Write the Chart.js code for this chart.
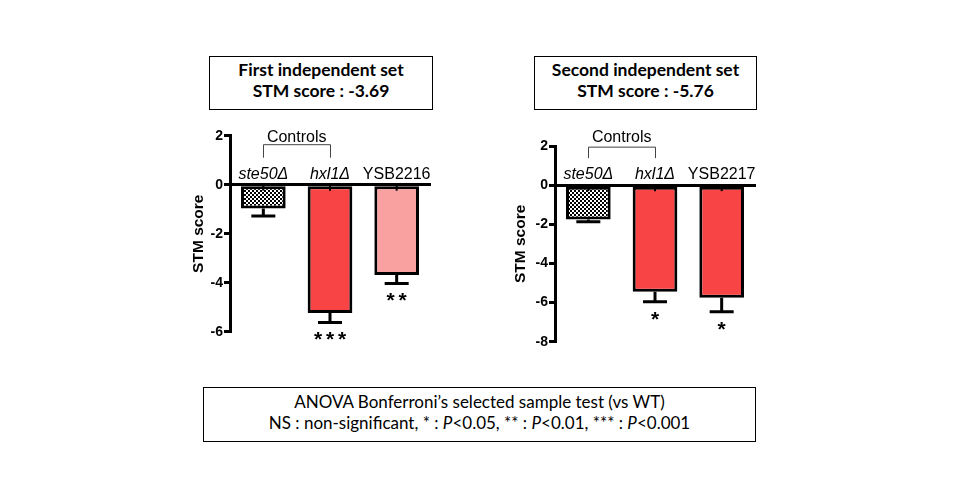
<!DOCTYPE html>
<html>
<head>
<meta charset="utf-8">
<title>STM score</title>
<script src="https://cdn.jsdelivr.net/npm/chart.js@4.4.1/dist/chart.umd.min.js"></script>
<style>
    body { margin: 0; background: #fff; }
    #page { position: relative; width: 960px; height: 500px; overflow: hidden; background: #fff; }
    .box {
        position: absolute;
        box-sizing: border-box;
        border: 1px solid #000;
        text-align: center;
        color: #000;
        font-family: Lato, "Open Sans", sans-serif;
        font-size: 17px;
        line-height: 21px;
    }
    .box.title { font-weight: bold; font-size: 17.5px; padding-top: 2px; }
    .box.note { padding-top: 3px; }
    canvas { position: absolute; }
</style>
</head>
<body>
<div id="page">
    <div class="box title" style="left:209px; top:56px; width:224px; height:54px;">First independent set<br>STM score : -3.69</div>
    <div class="box title" style="left:534px; top:56px; width:223px; height:54px;">Second independent set<br>STM score : -5.76</div>
    <canvas id="set1" width="270" height="240" style="left:170px; top:120px;"></canvas>
    <canvas id="set2" width="270" height="240" style="left:500px; top:120px;"></canvas>
    <div class="box note" style="left:203px; top:387px; width:553px; height:55px;">ANOVA Bonferroni’s selected sample test (vs WT)<br>NS : non-significant, * : <i>P</i>&lt;0.05, ** : <i>P</i>&lt;0.01, *** : <i>P</i>&lt;0.001</div>
</div>
<script>
// Data
const set1Labels = ['ste50Δ', 'hxl1Δ', 'YSB2216'];
const set1Scores = [-0.97, -5.24, -3.69];
const set1Errors = [0.31, 0.38, 0.34];
const set1Stars = ['', '***', '**'];

const set2Labels = ['ste50Δ', 'hxl1Δ', 'YSB2217'];
const set2Scores = [-1.75, -5.45, -5.76];
const set2Errors = [0.12, 0.51, 0.71];
const set2Stars = ['', '*', '*'];

// gene deletions are written in italics
const italicLabels = [true, true, false];
const controlsLabel = 'Controls';

const set1Axis = { min: -6, max: 2, step: 2 };
const set2Axis = { min: -8, max: 2, step: 2 };

const RED = '#F84444';
const PINK = '#F9A0A0';

// small black/white checkerboard for the ste50 bar
function makeChecker() {
    const c = document.createElement('canvas');
    c.width = 4;
    c.height = 4;
    const g = c.getContext('2d');
    g.fillStyle = '#fff';
    g.fillRect(0, 0, 4, 4);
    g.fillStyle = '#000';
    g.fillRect(0, 0, 2, 2);
    g.fillRect(2, 2, 2, 2);
    return g.createPattern(c, 'repeat');
}

// Error bars (downward only), significance stars, labels above the zero line and the Controls bracket
const annotatePlugin = {
    id: 'annotate',
    afterDatasetsDraw(chart, args, opts) {
        const ctx = chart.ctx;
        const y = chart.scales.y;
        const meta = chart.getDatasetMeta(0);
        const y0 = y.getPixelForValue(0);
        ctx.save();
        ctx.strokeStyle = '#000';
        ctx.fillStyle = '#000';
        meta.data.forEach(function(bar, i) {
            const end = y.getPixelForValue(opts.scores[i]);
            const low = y.getPixelForValue(opts.scores[i] - opts.errors[i]);
            ctx.lineWidth = 3;
            ctx.beginPath();
            ctx.moveTo(bar.x, end);
            ctx.lineTo(bar.x, low);
            ctx.moveTo(bar.x - 12, low);
            ctx.lineTo(bar.x + 12, low);
            ctx.stroke();
            // little notch just below the axis
            ctx.lineWidth = 2;
            ctx.beginPath();
            ctx.moveTo(bar.x, y0);
            ctx.lineTo(bar.x, y0 + 6);
            ctx.stroke();

            // stars
            const stars = opts.stars[i];
            if (stars) {
                ctx.font = 'bold 21px "Liberation Sans", Arial, sans-serif';
                ctx.textAlign = 'center';
                ctx.textBaseline = 'alphabetic';
                const m = ctx.measureText('*');
                const cy = low + 14;
                const base = cy + (m.actualBoundingBoxAscent - m.actualBoundingBoxDescent) / 2;
                const n = stars.length;
                for (let k = 0; k < n; k++) {
                    ctx.fillText('*', bar.x + (k - (n - 1) / 2) * 12, base);
                }
            }

            // category label
            ctx.font = (italicLabels[i] ? 'italic ' : '') + '16px "Liberation Sans", Arial, sans-serif';
            ctx.textAlign = 'center';
            ctx.textBaseline = 'alphabetic';
            ctx.fillText(opts.labels[i], bar.x, y0 - 6);
        });

        // Controls bracket over the first two bars
        const xa = meta.data[0].x;
        const xb = meta.data[1].x;
        ctx.strokeStyle = '#444';
        ctx.lineWidth = 1;
        ctx.beginPath();
        ctx.moveTo(Math.round(xa) + 0.5, y0 - 27);
        ctx.lineTo(Math.round(xa) + 0.5, y0 - opts.bracketTop);
        ctx.lineTo(Math.round(xb) + 0.5, y0 - opts.bracketTop);
        ctx.lineTo(Math.round(xb) + 0.5, y0 - 27);
        ctx.stroke();
        ctx.font = '16px "Liberation Sans", Arial, sans-serif';
        ctx.textAlign = 'center';
        ctx.fillText(controlsLabel, (xa + xb) / 2, y0 - 43);
        ctx.restore();
    }
};

function buildChart(id, labels, scores, errors, stars, colors, axis, padding, axisWidth, bracketTop) {
    const ctx = document.getElementById(id).getContext('2d');
    return new Chart(ctx, {
        type: 'bar',
        data: {
            labels: labels,
            datasets: [{
                data: scores,
                backgroundColor: colors,
                borderColor: '#000',
                borderWidth: 3,
                borderSkipped: false,
                categoryPercentage: 1,
                barPercentage: 0.67
            }]
        },
        options: {
            responsive: false,
            animation: false,
            layout: { padding: padding },
            plugins: {
                legend: { display: false },
                tooltip: { enabled: false },
                annotate: { labels: labels, scores: scores, errors: errors, stars: stars, bracketTop: bracketTop }
            },
            scales: {
                x: {
                    type: 'category',
                    position: { y: 0 },
                    offset: true,
                    grid: { display: false },
                    ticks: { display: false },
                    border: { display: true, width: 3, color: '#000' },
                    afterFit: function(s) { s.height = 0; }
                },
                y: {
                    min: axis.min,
                    max: axis.max,
                    ticks: {
                        stepSize: axis.step,
                        color: '#000',
                        padding: 1,
                        font: { family: '"Liberation Sans", Arial, sans-serif', size: 14, weight: 'bold' }
                    },
                    grid: { drawOnChartArea: false, drawTicks: true, tickLength: 6, lineWidth: 3, color: '#000' },
                    border: { display: true, width: 3, color: '#000' },
                    title: {
                        display: true,
                        text: 'STM score',
                        color: '#000',
                        padding: 0,
                        font: { family: '"Liberation Sans", Arial, sans-serif', size: 15.5, weight: 'bold' }
                    },
                    afterFit: function(s) { s.width = axisWidth; }
                }
            }
        },
        plugins: [annotatePlugin]
    });
}

const checker = makeChecker();

buildChart('set1', set1Labels, set1Scores, set1Errors, set1Stars,
    [checker, RED, PINK], set1Axis,
    { left: 19, top: 15.7, right: 10, bottom: 28.3 }, 41, 40);

buildChart('set2', set2Labels, set2Scores, set2Errors, set2Stars,
    [checker, RED, RED], set2Axis,
    { left: 11, top: 26, right: 15, bottom: 18.3 }, 44, 38);
</script>
</body>
</html>
